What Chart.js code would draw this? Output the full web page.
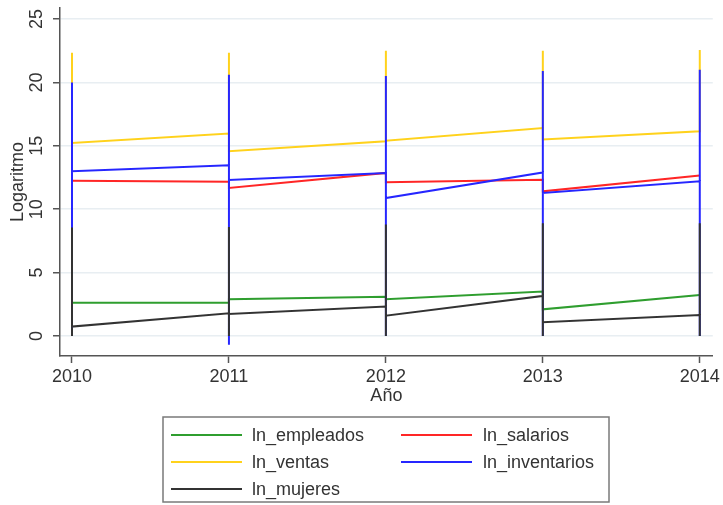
<!DOCTYPE html>
<html>
<head>
<meta charset="utf-8">
<script src="https://cdn.jsdelivr.net/npm/chart.js@4.4.1/dist/chart.umd.min.js"></script>
<style>
  html, body { margin: 0; padding: 0; background: #ffffff; }
  #wrap { width: 723px; height: 505px; }
</style>
</head>
<body>
<div id="wrap"><canvas id="c" width="723" height="505"></canvas></div>
<script>
// ---- data ----
const years = [2010, 2011, 2012, 2013, 2014];
const yTickValues = [0, 5, 10, 15, 20, 25];
const xTitle = "Año";
const yTitle = "Logaritmo";

const seriesNames = ["ln_empleados", "ln_salarios", "ln_ventas", "ln_inventarios", "ln_mujeres"];
const seriesColors = ["#2f9e2f", "#ff2626", "#ffd21c", "#2626ff", "#333333"];

// value where the segment leaving each year starts
const empleadosStart   = [2.63, 2.90, 2.90, 2.10, null];
const salariosStart    = [12.25, 11.67, 12.12, 11.41, null];
const ventasStart      = [15.23, 14.57, 15.40, 15.50, null];
const inventariosStart = [12.99, 12.30, 10.88, 11.28, null];
const mujeresStart     = [0.74, 1.74, 1.60, 1.08, null];

// value where the segment arriving at each year ends
const empleadosEnd   = [null, 2.63, 3.10, 3.50, 3.24];
const salariosEnd    = [null, 12.17, 12.86, 12.33, 12.65];
const ventasEnd      = [null, 15.97, 15.36, 16.40, 16.15];
const inventariosEnd = [null, 13.46, 12.86, 12.90, 12.20];
const mujeresEnd     = [null, 1.79, 2.32, 3.16, 1.66];

// spread of the observations within each year (only visible spreads given)
const ventasLow      = [15.23, 14.57, 15.36, 15.50, 16.15];
const ventasHigh     = [22.35, 22.35, 22.5, 22.5, 22.55];
const inventariosLow = [0.0, -0.7, 0.0, 0.0, 0.0];
const inventariosHigh= [20.0, 20.6, 20.5, 20.9, 21.0];
const mujeresLow     = [0.0, 0.0, 0.0, 0.0, 0.0];
const mujeresHigh    = [8.55, 8.6, 8.8, 8.9, 8.9];

// ---- build paths ----
function buildPath(start, end, low, high) {
  const pts = [];
  for (let i = 0; i < years.length; i++) {
    const yr = years[i];
    if (end[i] !== null) pts.push({x: yr, y: end[i]});
    if (low) pts.push({x: yr, y: low[i]});
    if (high) pts.push({x: yr, y: high[i]});
    if (start[i] !== null) pts.push({x: yr, y: start[i]});
  }
  return pts;
}
const paths = [
  buildPath(empleadosStart, empleadosEnd, null, null),
  buildPath(salariosStart, salariosEnd, null, null),
  buildPath(ventasStart, ventasEnd, ventasLow, ventasHigh),
  buildPath(inventariosStart, inventariosEnd, inventariosLow, inventariosHigh),
  buildPath(mujeresStart, mujeresEnd, mujeresLow, mujeresHigh)
];
const drawOrder = [5, 4, 3, 2, 1]; // later series drawn on top

const FONT = '"Liberation Sans", Arial, Helvetica, sans-serif';
const TXT = '#333333';
const AXIS = '#555555';

const datasets = paths.map((p, i) => ({
  label: seriesNames[i],
  data: p,
  borderColor: seriesColors[i],
  backgroundColor: seriesColors[i],
  borderWidth: 2,
  pointRadius: 0,
  tension: 0,
  fill: false,
  order: drawOrder[i]
}));

const extras = {
  id: 'extras',
  afterDraw(chart) {
    const ctx = chart.ctx;
    const ys = chart.scales.y;
    const ca = chart.chartArea;
    ctx.save();
    ctx.fillStyle = TXT;
    ctx.font = '18px ' + FONT;
    ctx.textAlign = 'center';
    ctx.textBaseline = 'middle';
    // y tick labels (rotated)
    yTickValues.forEach(v => {
      ctx.save();
      ctx.translate(37, ys.getPixelForValue(v));
      ctx.rotate(-Math.PI / 2);
      ctx.fillText(String(v), 0, 0);
      ctx.restore();
    });
    // y title
    ctx.save();
    ctx.translate(18, (ca.top + ca.bottom) / 2);
    ctx.rotate(-Math.PI / 2);
    ctx.fillText(yTitle, 0, 0);
    ctx.restore();
    // x title
    ctx.fillText(xTitle, (ca.left + ca.right) / 2, 396);

    // legend
    const bx = 163, by = 417, bw = 446, bh = 85;
    ctx.strokeStyle = '#7a7a7a';
    ctx.lineWidth = 1.5;
    ctx.strokeRect(bx, by, bw, bh);
    const rowY = [435, 462, 489];
    const colLine = [[171, 242], [401, 472]];
    const colText = [252, 483];
    ctx.textAlign = 'left';
    seriesNames.forEach((name, i) => {
      const r = Math.floor(i / 2), c = i % 2;
      const y = rowY[r];
      ctx.strokeStyle = seriesColors[i];
      ctx.lineWidth = 2;
      ctx.beginPath();
      ctx.moveTo(colLine[c][0], y);
      ctx.lineTo(colLine[c][1], y);
      ctx.stroke();
      ctx.fillStyle = TXT;
      ctx.fillText(name, colText[c], y + 1);
    });
    ctx.restore();
  }
};

new Chart(document.getElementById('c'), {
  type: 'line',
  data: { datasets },
  options: {
    responsive: false,
    animation: false,
    layout: { padding: { top: 8, right: 10, left: 0, bottom: 0 } },
    plugins: { legend: { display: false }, tooltip: { enabled: false } },
    scales: {
      x: {
        type: 'linear',
        min: 2010 - 12 / 157,
        max: 2010 - 12 / 157 + 653 / 157,
        afterBuildTicks: s => { s.ticks = years.map(v => ({value: v})); },
        afterFit: s => { s.height = 149; },
        grid: { drawOnChartArea: false, drawTicks: true, tickLength: 7, tickColor: AXIS, tickWidth: 1.5 },
        border: { display: true, color: AXIS, width: 1.5 },
        ticks: { color: TXT, font: { family: FONT, size: 18 }, padding: 3, maxRotation: 0, callback: v => String(v) }
      },
      y: {
        type: 'linear',
        min: -1.58,
        max: 25.87,
        afterBuildTicks: s => { s.ticks = yTickValues.map(v => ({value: v})); },
        afterFit: s => { s.width = 60; },
        grid: { color: '#e8eef2', lineWidth: 1.5, drawTicks: true, tickLength: 7, tickColor: AXIS, tickWidth: 1.5 },
        border: { display: true, color: AXIS, width: 1.5 },
        ticks: { display: false }
      }
    }
  },
  plugins: [extras]
});
</script>
</body>
</html>
